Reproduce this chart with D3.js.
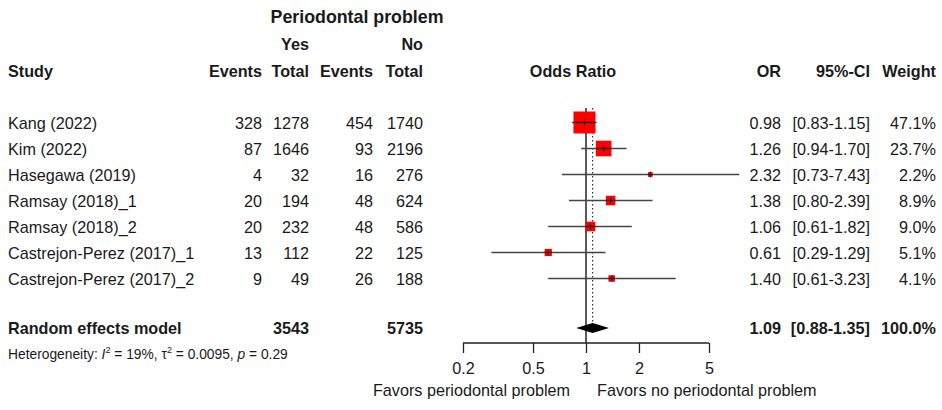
<!DOCTYPE html>
<html><head><meta charset="utf-8">
<script src="https://cdn.jsdelivr.net/npm/d3@7"></script>
<style>body{margin:0;background:#fff}text{font-family:"Liberation Sans",Arial,sans-serif;fill:#1a1a1a}</style>
</head><body><svg id="c" width="942" height="410"></svg>
<script>
const studies = ["Kang (2022)","Kim (2022)","Hasegawa (2019)","Ramsay (2018)_1","Ramsay (2018)_2","Castrejon-Perez (2017)_1","Castrejon-Perez (2017)_2"];
const eventsYes = [328,87,4,20,20,13,9];
const totalYes = [1278,1646,32,194,232,112,49];
const eventsNo = [454,93,16,48,48,22,26];
const totalNo = [1740,2196,276,624,586,125,188];
const orVals = [0.98,1.26,2.32,1.38,1.06,0.61,1.40];
const ciLow = [0.83,0.94,0.73,0.80,0.61,0.29,0.61];
const ciHigh = [1.15,1.70,7.43,2.39,1.82,1.29,3.23];
const weights = [47.1,23.7,2.2,8.9,9.0,5.1,4.1];
const pooled = {or:1.09, lo:0.88, hi:1.35, totYes:3543, totNo:5735, weight:100.0};
const tickVals = [0.2,0.5,1,2,5];

const svg = d3.select("#c");
const x = d3.scaleLog().domain([0.2,5]).range([463,709]);
const rowY = d3.scalePoint().domain(d3.range(studies.length)).range([122.5,278.5]);
const sq = d3.scaleSqrt().domain([0,47.1]).range([0,22]);
const fs = 16.2;
const yPooled = 328, axisY = 343;

function txt(xp,yp,s,anchor,bold,size){
  return svg.append("text").attr("x",xp).attr("y",yp).attr("text-anchor",anchor||"start")
    .attr("font-size",size||fs).attr("font-weight",bold?"bold":"normal").text(s);
}
// headers
txt(357,23,"Periodontal problem","middle",true,17.8);
txt(309,50,"Yes","end",true);
txt(423,50,"No","end",true);
txt(8,77,"Study","start",true);
txt(262,77,"Events","end",true);
txt(309,77,"Total","end",true);
txt(373,77,"Events","end",true);
txt(423,77,"Total","end",true);
txt(573,77,"Odds Ratio","middle",true);
txt(781,77,"OR","end",true);
txt(870,77,"95%-CI","end",true);
txt(936,77,"Weight","end",true);

const fmt2 = d3.format(".2f"), fmt1 = d3.format(".1f");
studies.forEach((s,i)=>{
  const yb = rowY(i)+6;
  txt(8,yb,s);
  txt(262,yb,eventsYes[i],"end");
  txt(309,yb,totalYes[i],"end");
  txt(373,yb,eventsNo[i],"end");
  txt(423,yb,totalNo[i],"end");
  txt(781,yb,fmt2(orVals[i]),"end");
  txt(870,yb,"["+fmt2(ciLow[i])+"-"+fmt2(ciHigh[i])+"]","end");
  txt(936,yb,fmt1(weights[i])+"%","end");
});
txt(8,yPooled+6,"Random effects model","start",true);
txt(309,yPooled+6,pooled.totYes,"end",true);
txt(423,yPooled+6,pooled.totNo,"end",true);
txt(781,yPooled+6,fmt2(pooled.or),"end",true);
txt(870,yPooled+6,"["+fmt2(pooled.lo)+"-"+fmt2(pooled.hi)+"]","end",true);
txt(936,yPooled+6,fmt1(pooled.weight)+"%","end",true);

// heterogeneity
const h = svg.append("text").attr("x",8).attr("y",359).attr("font-size",13.8);
h.append("tspan").text("Heterogeneity: ");
h.append("tspan").attr("font-style","italic").text("I");
h.append("tspan").attr("font-size",9).attr("dy",-6).text("2");
h.append("tspan").attr("dy",6).text(" = 19%, \u03c4");
h.append("tspan").attr("font-size",9).attr("dy",-6).text("2");
h.append("tspan").attr("dy",6).text(" = 0.0095, ");
h.append("tspan").attr("font-style","italic").text("p");
h.append("tspan").text(" = 0.29");

// reference line at 1
svg.append("line").attr("x1",x(1)).attr("x2",x(1)).attr("y1",108).attr("y2",axisY)
  .attr("stroke","#000").attr("stroke-width",1.3);
// dotted pooled line
svg.append("line").attr("x1",x(pooled.or)).attr("x2",x(pooled.or)).attr("y1",108).attr("y2",yPooled-5)
  .attr("stroke","#333").attr("stroke-width",1.2).attr("stroke-dasharray","1.5,2.5");

// CI lines, squares
const g = svg.append("g");
studies.forEach((s,i)=>{
  const y = rowY(i);
  g.append("line").attr("x1",x(ciLow[i])).attr("x2",x(ciHigh[i])).attr("y1",y).attr("y2",y)
    .attr("stroke","#444").attr("stroke-width",1.4);
  const w = sq(weights[i]);
  g.append("rect").attr("x",x(orVals[i])-w/2).attr("y",y-w/2).attr("width",w).attr("height",w)
    .attr("fill","#ff0000");
  const l = Math.max(x(ciLow[i]),x(orVals[i])-w/2), r = Math.min(x(ciHigh[i]),x(orVals[i])+w/2);
  g.append("line").attr("x1",l).attr("x2",r).attr("y1",y).attr("y2",y).attr("stroke","#222").attr("stroke-width",1.4);
  g.append("line").attr("x1",x(orVals[i])).attr("x2",x(orVals[i])).attr("y1",y-3).attr("y2",y+3)
    .attr("stroke","#222").attr("stroke-width",1.2);
});
// diamond
svg.append("path").attr("d",`M${x(pooled.lo)},${yPooled}L${x(pooled.or)},${yPooled-5}L${x(pooled.hi)},${yPooled}L${x(pooled.or)},${yPooled+5}Z`)
  .attr("fill","#000");

// axis
const ax = svg.append("g").attr("transform",`translate(0,${axisY})`)
  .call(d3.axisBottom(x).tickValues(tickVals).tickFormat(d3.format("")).tickSize(10).tickSizeOuter(0).tickPadding(9));
ax.select(".domain").attr("stroke","#222").attr("stroke-width",1.3).attr("d",`M${x(0.2)},0H${x(5)}`);
ax.selectAll(".tick line").attr("stroke","#222").attr("stroke-width",1.3);
ax.selectAll(".tick text").attr("font-size",fs).attr("font-family","Liberation Sans, Arial, sans-serif").attr("fill","#1a1a1a");

txt(570,396,"Favors periodontal problem","end");
txt(597,396,"Favors no periodontal problem","start");
</script></body></html>
